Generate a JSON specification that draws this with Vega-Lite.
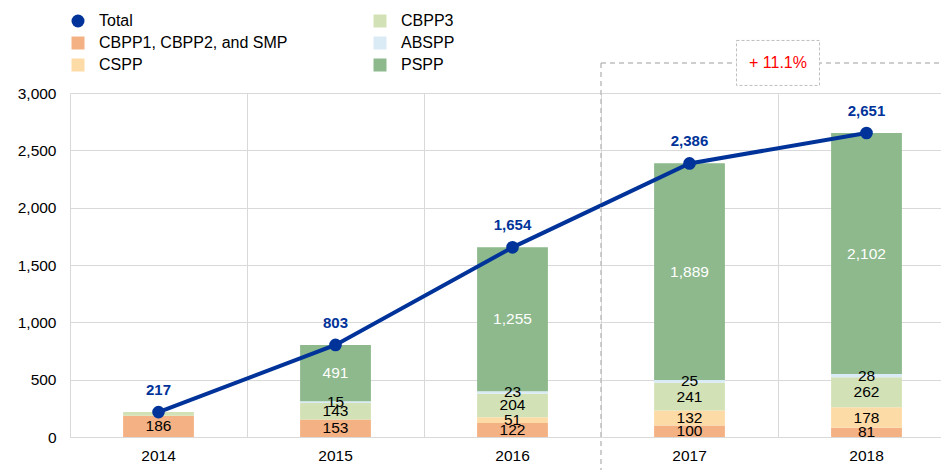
{
  "$schema": "https://vega.github.io/schema/vega-lite/v6.json",
  "width": 871,
  "height": 344,
  "autosize": {"type": "none"},
  "padding": {"left": 70, "top": 93, "right": 0, "bottom": 36},
  "background": "white",
  "config": {
    "font": "Liberation Sans",
    "view": {"stroke": null},
    "axisX": {"labelAngle": 0, "ticks": false, "grid": true, "bandPosition": 0, "gridColor": "#D9D9D9",
              "domainColor": "#D9D9D9", "labelFontSize": 15.5, "labelPadding": 11, "labelColor": "#000000"},
    "axisY": {"grid": true, "gridColor": "#D9D9D9", "domain": false, "ticks": false,
              "labelPadding": 14, "labelFontSize": 15.5, "labelColor": "#000000"}
  },
  "datasets": {
    "parts": [
      {"year": "2014", "series": "CBPP1, CBPP2, and SMP", "value": 186},
      {"year": "2014", "series": "CBPP3", "value": 31},
      {"year": "2015", "series": "CBPP1, CBPP2, and SMP", "value": 153},
      {"year": "2015", "series": "CBPP3", "value": 143},
      {"year": "2015", "series": "ABSPP", "value": 15},
      {"year": "2015", "series": "PSPP", "value": 491},
      {"year": "2016", "series": "CBPP1, CBPP2, and SMP", "value": 122},
      {"year": "2016", "series": "CSPP", "value": 51},
      {"year": "2016", "series": "CBPP3", "value": 204},
      {"year": "2016", "series": "ABSPP", "value": 23},
      {"year": "2016", "series": "PSPP", "value": 1255},
      {"year": "2017", "series": "CBPP1, CBPP2, and SMP", "value": 100},
      {"year": "2017", "series": "CSPP", "value": 132},
      {"year": "2017", "series": "CBPP3", "value": 241},
      {"year": "2017", "series": "ABSPP", "value": 25},
      {"year": "2017", "series": "PSPP", "value": 1889},
      {"year": "2018", "series": "CBPP1, CBPP2, and SMP", "value": 81},
      {"year": "2018", "series": "CSPP", "value": 178},
      {"year": "2018", "series": "CBPP3", "value": 262},
      {"year": "2018", "series": "ABSPP", "value": 28},
      {"year": "2018", "series": "PSPP", "value": 2102}
    ],
    "totals": [
      {"year": "2014", "total": 217},
      {"year": "2015", "total": 803},
      {"year": "2016", "total": 1654},
      {"year": "2017", "total": 2386},
      {"year": "2018", "total": 2651}
    ],
    "ann": [
      {"year": "2017", "year_to": "2018", "top": 3262, "bottom": -288, "label": "+ 11.1%"}
    ]
  },
  "layer": [
    {
      "data": {"name": "parts"},
      "transform": [
        {"calculate": "indexof(['CBPP1, CBPP2, and SMP','CSPP','CBPP3','ABSPP','PSPP'], datum.series)", "as": "ord"},
        {"stack": "value", "groupby": ["year"], "sort": [{"field": "ord", "order": "ascending"}], "as": ["v0", "v1"]}
      ],
      "mark": {"type": "bar", "width": {"band": 0.4}},
      "encoding": {
        "x": {"field": "year", "type": "nominal", "title": null,
              "scale": {"type": "band", "range": [0, 885], "paddingInner": 0, "paddingOuter": 0}},
        "y": {"field": "v0", "type": "quantitative", "title": null,
              "scale": {"domain": [0, 3000], "nice": false},
              "axis": {"values": [0, 500, 1000, 1500, 2000, 2500, 3000], "format": ",.0f"}},
        "y2": {"field": "v1"},
        "color": {
          "field": "series", "type": "nominal",
          "scale": {
            "domain": ["Total", "CBPP1, CBPP2, and SMP", "CSPP", "CBPP3", "ABSPP", "PSPP"],
            "range": ["#003399", "#F4B183", "#FDDBA6", "#D3E2B6", "#DAEBF5", "#8DB98C"]
          },
          "legend": {
            "title": null, "orient": "none", "legendX": 0, "legendY": -80, "columns": 2,
            "columnPadding": 84, "rowPadding": 6, "symbolSize": 169, "labelFontSize": 16,
            "labelOffset": 13, "labelLimit": 400, "symbolType": "square", "labelColor": "#000000", "padding": 0,
            "symbolStrokeWidth": 0,
            "encode": {"symbols": {"update": {"shape": {"signal": "datum.value === 'Total' ? 'circle' : 'square'"}}}}
          }
        }
      }
    },
    {
      "data": {"name": "parts"},
      "transform": [
        {"calculate": "indexof(['CBPP1, CBPP2, and SMP','CSPP','CBPP3','ABSPP','PSPP'], datum.series)", "as": "ord"},
        {"stack": "value", "groupby": ["year"], "sort": [{"field": "ord", "order": "ascending"}], "as": ["v0", "v1"]},
        {"filter": "!(datum.year === '2014' && datum.series === 'CBPP3')"},
        {"calculate": "(datum.v0 + datum.v1) / 2", "as": "mid"}
      ],
      "mark": {"type": "text", "fontSize": 15.5, "baseline": "middle"},
      "encoding": {
        "x": {"field": "year", "type": "nominal", "title": null,
              "scale": {"type": "band", "range": [0, 885], "paddingInner": 0, "paddingOuter": 0}},
        "y": {"field": "mid", "type": "quantitative", "title": null, "scale": {"domain": [0, 3000], "nice": false},
              "axis": {"values": [0, 500, 1000, 1500, 2000, 2500, 3000], "format": ",.0f"}},
        "text": {"field": "value", "type": "quantitative", "format": ","},
        "color": {"condition": {"test": "datum.series === 'PSPP'", "value": "#FFFFFF"}, "value": "#000000"}
      }
    },
    {
      "data": {"name": "totals"},
      "mark": {"type": "line", "color": "#003399", "strokeWidth": 4},
      "encoding": {
        "x": {"field": "year", "type": "nominal", "title": null,
              "scale": {"type": "band", "range": [0, 885], "paddingInner": 0, "paddingOuter": 0}},
        "y": {"field": "total", "type": "quantitative", "title": null, "scale": {"domain": [0, 3000], "nice": false},
              "axis": {"values": [0, 500, 1000, 1500, 2000, 2500, 3000], "format": ",.0f"}}
      }
    },
    {
      "data": {"name": "totals"},
      "mark": {"type": "point", "filled": true, "color": "#003399", "size": 160, "opacity": 1},
      "encoding": {
        "x": {"field": "year", "type": "nominal", "title": null,
              "scale": {"type": "band", "range": [0, 885], "paddingInner": 0, "paddingOuter": 0}},
        "y": {"field": "total", "type": "quantitative", "title": null, "scale": {"domain": [0, 3000], "nice": false},
              "axis": {"values": [0, 500, 1000, 1500, 2000, 2500, 3000], "format": ",.0f"}}
      }
    },
    {
      "data": {"name": "totals"},
      "mark": {"type": "text", "color": "#003399", "fontSize": 15, "fontWeight": "bold", "dy": -22, "baseline": "middle"},
      "encoding": {
        "x": {"field": "year", "type": "nominal", "title": null,
              "scale": {"type": "band", "range": [0, 885], "paddingInner": 0, "paddingOuter": 0}},
        "y": {"field": "total", "type": "quantitative", "title": null, "scale": {"domain": [0, 3000], "nice": false},
              "axis": {"values": [0, 500, 1000, 1500, 2000, 2500, 3000], "format": ",.0f"}},
        "text": {"field": "total", "type": "quantitative", "format": ","}
      }
    },
    {
      "data": {"name": "ann"},
      "mark": {"type": "rule", "color": "#BFBFBF", "strokeDash": [5, 4], "strokeWidth": 1.5},
      "encoding": {
        "x": {"field": "year", "type": "nominal", "bandPosition": 0, "title": null,
              "scale": {"type": "band", "range": [0, 885], "paddingInner": 0, "paddingOuter": 0}},
        "y": {"field": "top", "type": "quantitative", "title": null, "scale": {"domain": [0, 3000], "nice": false},
              "axis": {"values": [0, 500, 1000, 1500, 2000, 2500, 3000], "format": ",.0f"}},
        "y2": {"field": "bottom"}
      }
    },
    {
      "data": {"name": "ann"},
      "mark": {"type": "rule", "color": "#BFBFBF", "strokeDash": [5, 4], "strokeWidth": 1.5},
      "encoding": {
        "x": {"field": "year", "type": "nominal", "bandPosition": 0, "title": null,
              "scale": {"type": "band", "range": [0, 885], "paddingInner": 0, "paddingOuter": 0}},
        "x2": {"field": "year_to", "bandPosition": 1},
        "y": {"field": "top", "type": "quantitative", "title": null, "scale": {"domain": [0, 3000], "nice": false},
              "axis": {"values": [0, 500, 1000, 1500, 2000, 2500, 3000], "format": ",.0f"}}
      }
    },
    {
      "data": {"name": "ann"},
      "mark": {"type": "point", "shape": "M-1,-0.542H1V0.542H-1Z", "size": 6889, "fill": "#FFFFFF",
               "stroke": "#BFBFBF", "strokeDash": [3, 2], "strokeWidth": 1, "opacity": 1, "fillOpacity": 1},
      "encoding": {
        "x": {"field": "year_to", "type": "nominal", "bandPosition": 0, "title": null,
              "scale": {"type": "band", "range": [0, 885], "paddingInner": 0, "paddingOuter": 0}},
        "y": {"field": "top", "type": "quantitative", "title": null, "scale": {"domain": [0, 3000], "nice": false},
              "axis": {"values": [0, 500, 1000, 1500, 2000, 2500, 3000], "format": ",.0f"}}
      }
    },
    {
      "data": {"name": "ann"},
      "mark": {"type": "text", "color": "#FF0000", "fontSize": 16, "baseline": "middle"},
      "encoding": {
        "x": {"field": "year_to", "type": "nominal", "bandPosition": 0, "title": null,
              "scale": {"type": "band", "range": [0, 885], "paddingInner": 0, "paddingOuter": 0}},
        "y": {"field": "top", "type": "quantitative", "title": null, "scale": {"domain": [0, 3000], "nice": false},
              "axis": {"values": [0, 500, 1000, 1500, 2000, 2500, 3000], "format": ",.0f"}},
        "text": {"field": "label"}
      }
    }
  ]
}
